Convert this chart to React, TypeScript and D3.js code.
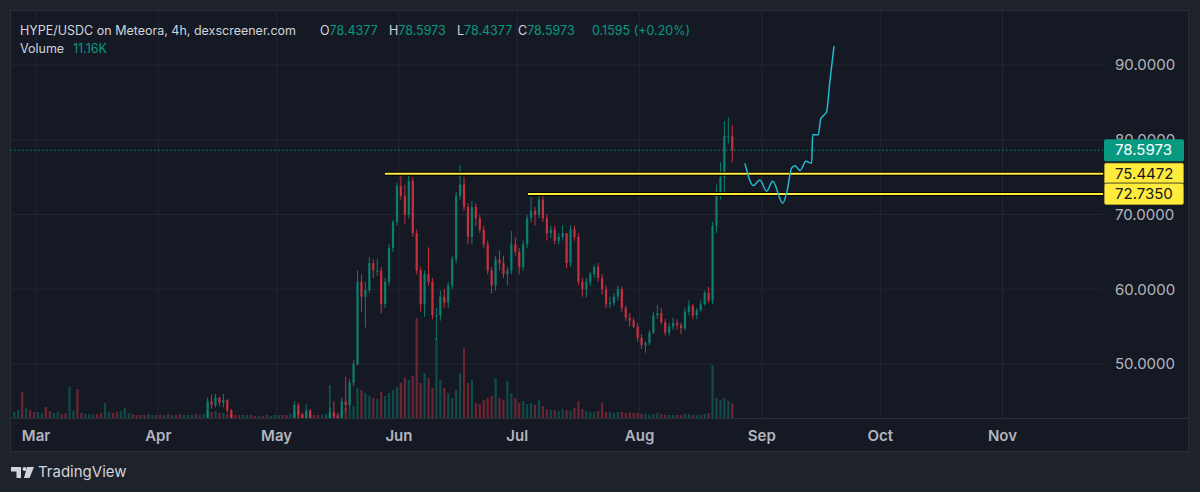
import * as React from 'react';
import * as d3 from 'd3';

// [high, low, close] per day; open is the previous close
type Bar = [number, number, number];

const firstDay = '2025-02-23';
const firstOpen = 40.0;
const lastPrice = 78.5973;

const febBars: Bar[] = [
  [41.2, 39.6, 40.5], [41.6, 40.1, 41.0], [41.3, 39.4, 39.8], [40.8, 39.2, 40.2], [40.6, 39.1, 39.5], [39.9, 38.4, 38.8],
];
const marBars: Bar[] = [
  [39.8, 38.3, 39.2], [40.6, 38.9, 40.1], [40.5, 38.1, 38.5], [39.0, 37.4, 37.9], [39.1, 37.6, 38.6], [39.9, 38.3, 39.4],
  [39.8, 38.4, 38.8], [39.2, 37.7, 38.1], [40.3, 37.9, 39.5], [41.5, 39.2, 40.6], [41.0, 38.8, 39.2], [39.6, 38.2, 38.7],
  [39.9, 38.5, 39.4], [40.6, 39.1, 40.1], [41.0, 39.8, 40.5], [40.9, 39.4, 39.8], [40.2, 38.7, 39.1], [40.9, 38.9, 40.3],
  [41.8, 40.1, 41.2], [41.5, 40.0, 40.4], [40.7, 39.3, 39.7], [40.6, 39.4, 40.1], [41.3, 39.9, 40.8], [41.9, 40.5, 41.3],
  [41.6, 40.2, 40.6], [40.9, 39.5, 39.9], [40.2, 38.8, 39.2], [39.5, 38.0, 38.5], [39.4, 38.1, 38.9], [40.1, 38.6, 39.6],
  [39.8, 38.3, 38.7],
];
const aprBars: Bar[] = [
  [39.2, 37.8, 38.2], [39.4, 37.9, 38.9], [39.3, 37.2, 37.6], [38.9, 37.1, 38.4], [38.8, 37.5, 37.9], [38.2, 36.4, 36.8],
  [38.0, 36.2, 37.5], [39.1, 37.2, 38.6], [40.4, 38.3, 39.8], [40.3, 38.7, 39.1], [40.8, 38.9, 40.2], [41.7, 39.9, 41.2],
  [45.5, 41.0, 45.0], [45.9, 44.0, 44.5], [46.0, 44.2, 45.5], [45.6, 44.3, 44.8], [46.0, 44.2, 45.2], [45.3, 43.5, 43.8],
  [44.0, 41.5, 42.0], [42.3, 40.8, 41.2], [41.6, 40.3, 40.8], [41.9, 40.5, 41.4], [42.2, 40.9, 41.8], [42.1, 40.8, 41.2],
  [41.5, 40.2, 40.6], [41.6, 40.3, 41.1], [41.4, 40.1, 40.5], [40.9, 39.5, 39.9], [41.1, 39.6, 40.6], [41.8, 40.3, 41.3],
];
const mayBars: Bar[] = [
  [42.2, 41.0, 41.8], [42.1, 40.8, 41.2], [41.6, 40.3, 40.7], [42.0, 40.5, 41.5], [45.0, 41.3, 44.5], [44.8, 42.8, 43.2],
  [43.5, 41.8, 42.2], [44.6, 42.0, 43.8], [44.0, 42.2, 42.5], [42.8, 40.8, 41.2], [41.8, 40.5, 41.0], [42.0, 40.8, 41.5],
  [43.0, 41.0, 42.5], [47.2, 42.3, 43.5], [45.0, 42.5, 43.0], [43.5, 41.8, 42.3], [45.5, 42.0, 45.0], [48.3, 43.5, 44.5],
  [48.0, 44.0, 47.5], [50.5, 47.0, 50.0], [62.5, 49.8, 61.0], [62.0, 57.0, 59.0], [61.0, 54.9, 59.9], [64.3, 59.5, 63.5],
  [64.0, 61.5, 62.5], [64.0, 61.8, 62.5], [63.0, 56.8, 58.0], [61.5, 57.5, 61.0], [66.0, 60.5, 65.5], [69.3, 65.0, 69.0],
  [74.2, 68.5, 73.8],
];
const junBars: Bar[] = [
  [75.4, 72.0, 72.5], [74.0, 68.8, 70.0], [75.3, 69.5, 74.5], [75.0, 67.0, 67.5], [68.0, 62.0, 62.5], [63.0, 57.0, 58.0],
  [62.5, 56.3, 62.0], [65.6, 60.5, 61.0], [61.5, 56.0, 56.5], [57.5, 53.2, 56.5], [59.8, 55.8, 59.0], [60.0, 57.5, 58.2],
  [61.0, 57.5, 60.5], [64.5, 60.0, 64.0], [73.0, 63.5, 72.5], [76.6, 72.0, 74.0], [75.0, 70.5, 71.0], [71.5, 66.0, 67.0],
  [71.8, 66.0, 71.0], [71.5, 68.5, 69.5], [70.0, 67.5, 68.0], [68.5, 65.5, 66.0], [66.5, 62.0, 62.5], [63.0, 59.5, 60.5],
  [64.5, 59.8, 64.0], [65.2, 62.5, 63.5], [64.5, 61.5, 62.0], [63.0, 60.5, 62.5], [67.8, 62.0, 66.0], [67.0, 64.5, 65.0],
];
const julBars: Bar[] = [
  [65.5, 62.0, 63.0], [66.5, 62.5, 66.0], [70.0, 65.5, 69.5], [72.3, 69.0, 70.5], [71.0, 68.5, 70.0], [72.7, 69.5, 72.0],
  [72.5, 69.0, 69.5], [70.0, 66.5, 67.5], [68.5, 66.8, 68.0], [68.5, 66.0, 66.5], [67.5, 66.0, 67.0], [68.6, 66.5, 67.5],
  [67.5, 62.8, 63.5], [68.5, 63.0, 68.0], [68.5, 66.5, 67.0], [67.5, 60.5, 61.0], [61.5, 59.0, 60.0], [61.5, 58.9, 61.0],
  [62.3, 60.5, 62.0], [63.3, 61.5, 63.0], [63.5, 61.0, 61.5], [62.0, 59.3, 60.0], [60.5, 57.5, 58.0], [59.0, 57.5, 58.2],
  [59.5, 57.8, 59.0], [60.5, 58.5, 60.0], [60.4, 57.0, 57.5], [57.8, 55.8, 56.2], [56.8, 55.0, 55.8], [56.2, 54.8, 55.0],
  [55.5, 53.0, 53.5],
];
const augBars: Bar[] = [
  [54.0, 52.0, 52.5], [53.0, 51.5, 52.8], [54.5, 52.5, 54.2], [57.0, 54.0, 56.5], [57.9, 56.0, 56.8], [57.5, 55.3, 55.6],
  [56.0, 53.8, 54.2], [55.5, 53.8, 55.0], [56.2, 54.5, 55.5], [56.0, 54.6, 55.2], [55.5, 54.0, 54.8], [57.5, 54.5, 57.0],
  [58.5, 56.5, 57.8], [58.0, 56.0, 56.5], [57.5, 56.0, 57.2], [58.5, 57.0, 58.0], [59.8, 57.8, 59.5], [60.3, 58.2, 58.5],
  [69.0, 58.0, 68.5], [74.0, 67.5, 73.0], [77.0, 72.0, 75.0], [82.5, 73.0, 80.5], [83.0, 79.5, 80.5], [82.0, 77.0, 78.5973],
];

const febVolume = [12, 16, 52, 20, 16, 12];
const marVolume = [12, 10, 22, 14, 10, 12, 8, 10, 62, 14, 58, 10, 8, 8, 6, 8, 10, 30, 12, 10, 12, 14, 20, 10, 8, 6, 6, 6, 8, 6, 6];
const aprVolume = [6, 6, 8, 6, 6, 8, 6, 6, 6, 8, 6, 8, 14, 12, 14, 10, 10, 8, 8, 6, 6, 6, 6, 6, 4, 4, 4, 6, 4, 6];
const mayVolume = [6, 6, 6, 8, 14, 12, 8, 12, 10, 6, 6, 6, 8, 20, 12, 8, 14, 20, 18, 24, 60, 56, 50, 44, 40, 38, 52, 44, 50, 56, 62];
const junVolume = [70, 80, 76, 84, 200, 70, 90, 80, 60, 160, 76, 60, 50, 40, 56, 90, 140, 70, 76, 30, 28, 36, 40, 44, 80, 40, 36, 74, 50, 40];
const julVolume = [30, 34, 28, 30, 26, 36, 24, 18, 16, 16, 14, 18, 16, 14, 20, 34, 18, 14, 12, 12, 14, 30, 12, 12, 10, 12, 12, 10, 12, 10, 10];
const augVolume = [8, 8, 6, 8, 10, 8, 6, 6, 6, 6, 6, 8, 8, 6, 6, 6, 8, 10, 106, 40, 36, 40, 34, 30];

const priceTicks = [50, 60, 70, 80, 90];
const monthStarts = ['2025-03-01', '2025-04-01', '2025-05-01', '2025-06-01', '2025-07-01', '2025-08-01', '2025-09-01', '2025-10-01', '2025-11-01'];
const monthLabels = ['Mar', 'Apr', 'May', 'Jun', 'Jul', 'Aug', 'Sep', 'Oct', 'Nov'];

// horizontal levels drawn by the author
const levelPrices = [75.4472, 72.735];
const levelStarts = ['2025-05-28T11:00Z', '2025-07-03T17:00Z'];

// hand-drawn projection path
const sketchTimes = [
  '2025-08-27T17:00Z', '2025-08-29T20:00Z', '2025-08-31T12:00Z', '2025-09-02T05:00Z', '2025-09-03T18:00Z',
  '2025-09-06T07:00Z', '2025-09-07T10:00Z', '2025-09-08T13:00Z', '2025-09-09T10:00Z', '2025-09-10T16:00Z',
  '2025-09-12T04:00Z', '2025-09-13T15:00Z', '2025-09-13T21:00Z', '2025-09-15T07:00Z', '2025-09-15T22:00Z',
  '2025-09-17T10:00Z', '2025-09-18T06:00Z', '2025-09-19T07:00Z',
];
const sketchPrices = [
  76.84, 73.87, 74.63, 73.11, 74.44, 71.51, 73.2, 76.23, 76.53, 75.87, 77.11, 76.84, 80.67, 80.67, 82.76, 83.77, 87.87, 92.53,
];

const UP = '#089981';
const DOWN = '#f23645';
const FONT = 'Inter, Roboto, sans-serif';

const plot = {left: 10, right: 1103, top: 10, bottom: 418};

export default function App() {
  const x = d3.scaleUtc()
    .domain([new Date('2025-03-01T00:00Z'), new Date('2025-11-01T00:00Z')])
    .range([36, 1002.5]);
  const y = d3.scaleLinear().domain([50, 90]).range([364, 65]);
  const vy = d3.scaleLinear().domain([0, 220]).range([plot.bottom, 308]);

  const bars = [febBars, marBars, aprBars, mayBars, junBars, julBars, augBars].flat();
  const vols = [febVolume, marVolume, aprVolume, mayVolume, junVolume, julVolume, augVolume].flat();
  const start = new Date(firstDay + 'T00:00Z');
  const candles = bars.map((b, i) => ({
    t: d3.utcHour.offset(d3.utcDay.offset(start, i), 12),
    o: i === 0 ? firstOpen : bars[i - 1][2],
    h: b[0], l: b[1], c: b[2], v: vols[i],
  }));

  const sketch = sketchTimes.map((t, i) => [new Date(t), sketchPrices[i]] as [Date, number]);
  const sketchLine = d3.line<[Date, number]>()
    .x(d => x(d[0]))
    .y(d => y(d[1]))
    .curve(d3.curveMonotoneX);

  const bodyW = 2.2;

  return (
    <svg width={1200} height={492} style={{position: 'absolute', left: 0, top: 0}} fontFamily={FONT}>
      <defs>
        <clipPath id="plotClip">
          <rect x={plot.left} y={plot.top} width={plot.right - plot.left} height={plot.bottom - plot.top} />
        </clipPath>
      </defs>
      <rect width={1200} height={492} fill="#1e222b" />
      <rect x={10.5} y={10.5} width={1178} height={441} fill="#151924" stroke="#2a2e39" />

      {/* grid */}
      {priceTicks.map(p => (
        <line key={'h' + p} x1={plot.left} x2={plot.right} y1={y(p)} y2={y(p)} stroke="#232733" />
      ))}
      {monthStarts.map(m => (
        <line key={'v' + m} x1={x(new Date(m + 'T00:00Z'))} x2={x(new Date(m + 'T00:00Z'))}
          y1={plot.top} y2={plot.bottom} stroke="#232733" />
      ))}
      <line x1={10.5} x2={1188.5} y1={plot.bottom + 0.5} y2={plot.bottom + 0.5} stroke="#2a2e39" />

      <g clipPath="url(#plotClip)">
        {/* volume */}
        {candles.map((d, i) => (
          <rect key={'v' + i} x={x(d.t) - bodyW / 2} y={vy(d.v)} width={bodyW} height={plot.bottom - vy(d.v)}
            fill={d.c >= d.o ? UP : DOWN} opacity={0.4} />
        ))}
        {/* candles */}
        {candles.map((d, i) => {
          const col = d.c >= d.o ? UP : DOWN;
          const top = y(Math.max(d.o, d.c));
          const bot = y(Math.min(d.o, d.c));
          return (
            <g key={'c' + i} opacity={0.8}>
              <line x1={x(d.t)} x2={x(d.t)} y1={y(d.h)} y2={y(d.l)} stroke={col} strokeWidth={1} />
              <rect x={x(d.t) - bodyW / 2} y={top} width={bodyW} height={Math.max(1, bot - top)} fill={col} />
            </g>
          );
        })}
        {/* last price */}
        <line x1={plot.left} x2={plot.right} y1={y(lastPrice)} y2={y(lastPrice)} stroke={UP}
          strokeDasharray="1.5 2.5" strokeWidth={1} />
        {/* levels */}
        {levelPrices.map((p, i) => (
          <g key={'l' + i}>
            <line x1={x(new Date(levelStarts[i]))} x2={plot.right} y1={y(p)} y2={y(p)} stroke="#000" strokeWidth={4} />
            <line x1={x(new Date(levelStarts[i]))} x2={plot.right} y1={y(p)} y2={y(p)} stroke="#ffeb3b" strokeWidth={2} />
          </g>
        ))}
        {/* projection sketch */}
        <path d={sketchLine(sketch) ?? ''} fill="none" stroke="#22b8cf" strokeWidth={1.5} />
      </g>

      {/* price axis */}
      {priceTicks.map(p => (
        <text key={'t' + p} x={1115} y={y(p)} dy="0.35em" fontSize={15} fill="#b2b5be">{p.toFixed(4)}</text>
      ))}
      <rect x={1104} y={y(lastPrice) - 11} width={80} height={22} rx={2} fill={UP} />
      <text x={1115} y={y(lastPrice)} dy="0.35em" fontSize={15} fill="#ffffff">{lastPrice.toFixed(4)}</text>
      {levelPrices.map((p, i) => (
        <g key={'lb' + i}>
          <rect x={1104} y={y(p) - 11} width={80} height={22} rx={2} fill="#ffeb3b" stroke="#1a1a1a" strokeWidth={0.8} />
          <text x={1115} y={y(p)} dy="0.35em" fontSize={15} fill="#131722">{p.toFixed(4)}</text>
        </g>
      ))}

      {/* time axis */}
      {monthStarts.map((m, i) => (
        <text key={'m' + m} x={x(new Date(m + 'T00:00Z'))} y={436} dy="0.35em" textAnchor="middle"
          fontSize={15} fontWeight={600} fill="#b2b5be">{monthLabels[i]}</text>
      ))}

      {/* legend */}
      <text y={31} dy="0.35em" fontSize={12.5} fill="#d1d4dc">
        <tspan x={20}>HYPE/USDC on Meteora, 4h, dexscreener.com</tspan>
        <tspan x={320}>O</tspan><tspan fill={UP}>78.4377</tspan>
        <tspan x={389}>H</tspan><tspan fill={UP}>78.5973</tspan>
        <tspan x={457}>L</tspan><tspan fill={UP}>78.4377</tspan>
        <tspan x={518}>C</tspan><tspan fill={UP}>78.5973</tspan>
        <tspan x={592} fill={UP}>0.1595 (+0.20%)</tspan>
      </text>
      <text y={49} dy="0.35em" fontSize={12.5} fill="#d1d4dc">
        <tspan x={20}>Volume</tspan>
        <tspan x={73} fill={UP}>11.16K</tspan>
      </text>

      {/* footer logo */}
      <g fill="#d1d4dc">
        <path d="M11 467 h10 v11 h-4.5 v-6.5 h-5.5 z" />
        <circle cx={24.5} cy={469} r={2} />
        <path d="M27 467 h7 l-4.5 11 h-5.5 z" />
      </g>
      <text x={38} y={472} dy="0.35em" fontSize={15} fill="#d1d4dc">TradingView</text>
    </svg>
  );
}
